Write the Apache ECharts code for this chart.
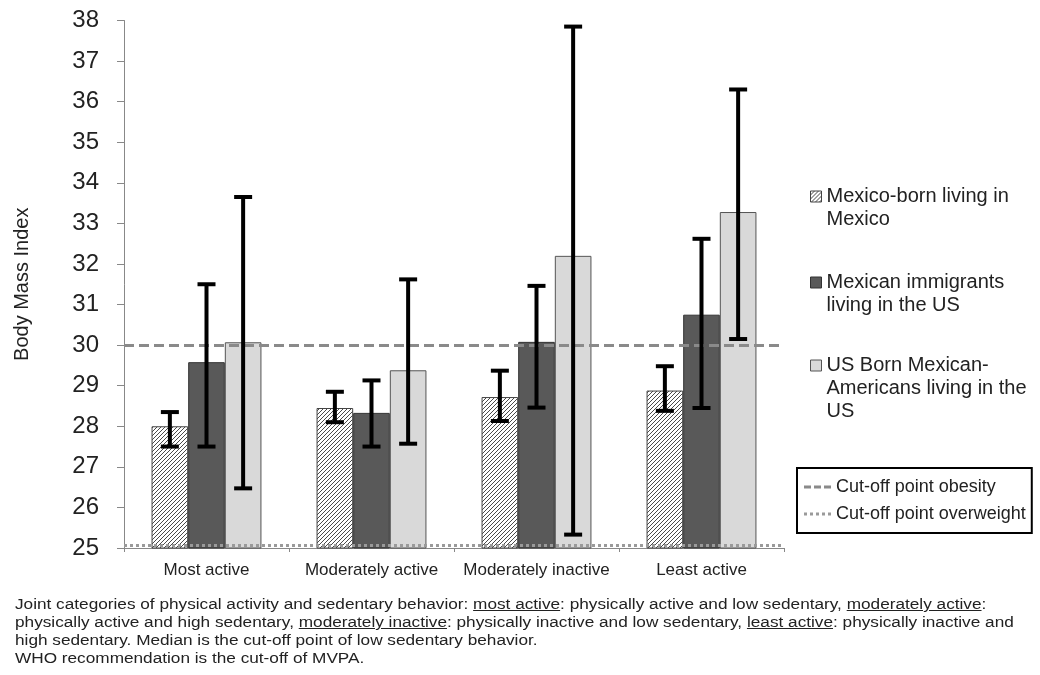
<!DOCTYPE html>
<html><head><meta charset="utf-8">
<script src="https://cdn.jsdelivr.net/npm/echarts@6/dist/echarts.min.js"></script>
<style>
html,body{margin:0;padding:0;background:#fff;}
#chart{position:absolute;left:0;top:0;width:1040px;height:675px;}
#caption{position:absolute;left:15px;top:595px;font-family:"Liberation Sans",Arial,sans-serif;font-size:15.5px;line-height:18px;color:#222;white-space:nowrap;transform:scaleX(1.11);transform-origin:0 0;}
#caption u{text-decoration:underline;}
</style></head><body>
<div id="chart"></div>
<div id="caption">Joint categories of physical activity and sedentary behavior: <u>most active</u>: physically active and low sedentary, <u>moderately active</u>:<br>physically active and high sedentary, <u>moderately inactive</u>: physically inactive and low sedentary, <u>least active</u>: physically inactive and<br>high sedentary. Median is the cut-off point of low sedentary behavior.<br>WHO recommendation is the cut-off of MVPA.</div>
<script>
// ---- data ----
const categories = ['Most active', 'Moderately active', 'Moderately inactive', 'Least active'];
const seriesNames = ['Mexico-born living in Mexico', 'Mexican immigrants living in the US', 'US Born Mexican-Americans living in the US'];
const legendLabels = ['Mexico-born living in\nMexico', 'Mexican immigrants\nliving in the US', 'US Born Mexican-\nAmericans living in the\nUS'];
const mexBorn     = [28.0, 28.45, 28.72, 28.88];
const mexBornLow  = [27.5, 28.1, 28.13, 28.38];
const mexBornHigh = [28.35, 28.85, 29.37, 29.48];
const immig       = [29.58, 28.33, 30.08, 30.75];
const immigLow    = [27.5, 27.5, 28.46, 28.45];
const immigHigh   = [31.5, 29.13, 31.46, 32.62];
const usBorn      = [30.07, 29.38, 32.2, 33.28];
const usBornLow   = [26.47, 27.57, 25.33, 30.15];
const usBornHigh  = [33.65, 31.62, 37.85, 36.3];
const cutoffNames = ['Cut-off point obesity', 'Cut-off point overweight'];
const cutoffValues = [30, 25.07];
const yTicks = {min: 25, max: 38, interval: 1};

// ---- build ----
const FONT = '"Liberation Sans", Arial, sans-serif';
const BAR_FRAC = 0.222;
function hatch() {
  const n = 4;
  const c = document.createElement('canvas'); c.width = n; c.height = n;
  const g = c.getContext('2d');
  g.fillStyle = '#fff'; g.fillRect(0, 0, n, n);
  g.strokeStyle = '#4a4a4a'; g.lineWidth = 1;
  g.beginPath();
  g.moveTo(0, n); g.lineTo(n, 0);
  g.moveTo(-1, 1); g.lineTo(1, -1);
  g.moveTo(n - 1, n + 1); g.lineTo(n + 1, n - 1);
  g.stroke();
  return c;
}
const barValues = [mexBorn, immig, usBorn];
const lows = [mexBornLow, immigLow, usBornLow];
const highs = [mexBornHigh, immigHigh, usBornHigh];
const barColors = [{image: hatch(), repeat: 'repeat'}, '#595959', '#d9d9d9'];
const barBorders = ['#444', '#333', '#555'];

const errData = [];
for (let s = 0; s < 3; s++) for (let c = 0; c < categories.length; c++) errData.push([c, s, lows[s][c], highs[s][c]]);

const series = [];
for (let s = 0; s < 3; s++) {
  series.push({
    type: 'bar', name: seriesNames[s], data: barValues[s],
    barWidth: (BAR_FRAC * 100) + '%', barGap: '0%', z: 2,
    itemStyle: {color: barColors[s], borderColor: barBorders[s], borderWidth: 1},
    emphasis: {disabled: true}
  });
}
const lineColors = ['#8a8a8a', '#9a9a9a'];
const lineStyles = [
  {type: [10, 5], color: lineColors[0], width: 3},
  {type: [3, 3], color: lineColors[1], width: 3}
];
const lineIcons = [
  'path://M0,0h7v3h-7z M10,0h7v3h-7z M20,0h7v3h-7z',
  'path://M0,0h3v3h-3z M6,0h3v3h-3z M12,0h3v3h-3z M18,0h3v3h-3z M24,0h3v3h-3z'
];
for (let i = 0; i < 2; i++) {
  series.push({
    type: 'line', name: cutoffNames[i], data: categories.map(() => null), symbol: 'none', z: 5,
    color: lineColors[i], lineStyle: lineStyles[i],
    markLine: {silent: true, symbol: 'none', label: {show: false}, lineStyle: lineStyles[i],
      data: [{yAxis: cutoffValues[i]}], animation: false}
  });
}
series.push({
  type: 'custom', name: 'err', data: errData, z: 6,
  encode: {x: 0, y: [2, 3]},
  renderItem: function (params, api) {
    const cat = api.value(0), s = api.value(1);
    const pLo = api.coord([cat, api.value(2)]);
    const pHi = api.coord([cat, api.value(3)]);
    const band = api.size([1, 0])[0];
    const x = pLo[0] + (s - 1) * band * BAR_FRAC;
    const cap = 9;
    const st = {stroke: '#000', lineWidth: 4};
    return {type: 'group', children: [
      {type: 'line', shape: {x1: x, y1: pHi[1], x2: x, y2: pLo[1]}, style: st},
      {type: 'line', shape: {x1: x - cap, y1: pHi[1], x2: x + cap, y2: pHi[1]}, style: st},
      {type: 'line', shape: {x1: x - cap, y1: pLo[1], x2: x + cap, y2: pLo[1]}, style: st}
    ]};
  }
});

// legend text: blank lines above keep the icon beside the first line
function legendText(i) {
  const lines = legendLabels[i].split('\n');
  const pad = [];
  for (let k = 1; k < lines.length; k++) pad.push('\u00a0');
  return pad.concat(lines).join('\n');
}
const legendTops = [162, 248, 308];
const legends = seriesNames.map((nm, i) => ({
  data: [{name: nm, icon: 'rect'}], left: 810, top: legendTops[i], orient: 'vertical', padding: 0,
  itemWidth: 11, itemHeight: 11, selectedMode: false,
  formatter: () => legendText(i),
  itemStyle: {borderColor: barBorders[i], borderWidth: 1},
  textStyle: {fontFamily: FONT, fontSize: 20, lineHeight: 23, color: '#222'}
}));
legends.push({
  data: cutoffNames.map((nm, i) => ({name: nm, icon: lineIcons[i], itemStyle: {color: lineColors[i], borderWidth: 0}})),
  left: 797, top: 468, orient: 'vertical',
  padding: [10, 6, 10, 7], itemGap: 9, borderColor: '#000', borderWidth: 2,
  itemWidth: 27, itemHeight: 3, selectedMode: false,
  textStyle: {fontFamily: FONT, fontSize: 18, lineHeight: 18, color: '#222'}
});

const chart = echarts.init(document.getElementById('chart'), null, {renderer: 'canvas'});
chart.setOption({
  animation: false,
  backgroundColor: '#fff',
  textStyle: {fontFamily: FONT},
  grid: {left: 124, right: 256, top: 20.5, bottom: 127},
  legend: legends,
  xAxis: {
    type: 'category', data: categories,
    axisLine: {lineStyle: {color: '#888', width: 1}},
    axisTick: {show: true, length: 4, lineStyle: {color: '#888'}},
    axisLabel: {fontSize: 17, color: '#222', margin: 14, interval: 0, fontFamily: FONT}
  },
  yAxis: {
    type: 'value', min: yTicks.min, max: yTicks.max, interval: yTicks.interval,
    name: 'Body Mass Index', nameLocation: 'middle', nameGap: 92,
    nameTextStyle: {fontSize: 20, color: '#222', fontFamily: FONT},
    axisLine: {show: true, lineStyle: {color: '#888', width: 1}},
    axisTick: {show: true, length: 7, lineStyle: {color: '#888'}},
    splitLine: {show: false},
    axisLabel: {fontSize: 24, color: '#222', margin: 25, fontFamily: FONT}
  },
  series: series
});
</script>
</body></html>
